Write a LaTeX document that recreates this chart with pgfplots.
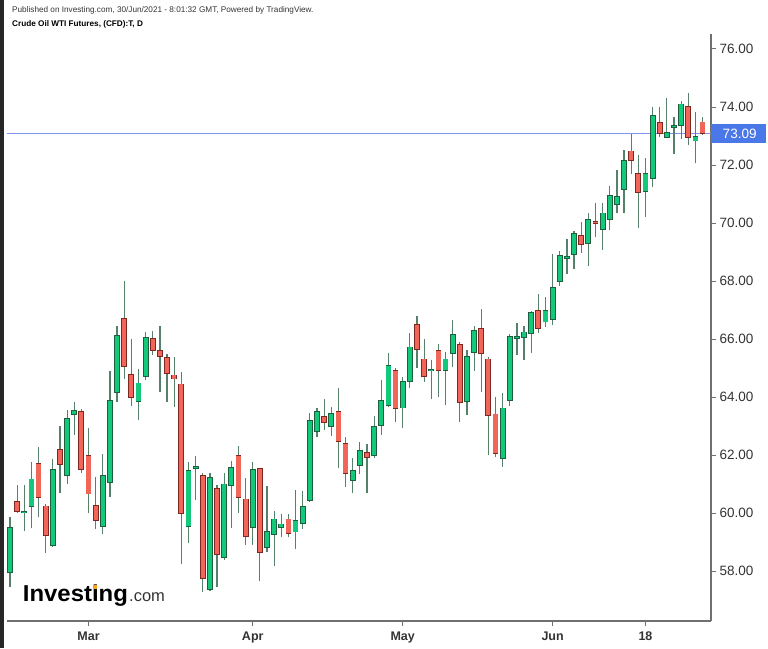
\documentclass[border=0pt]{standalone}
\usepackage{pgfplots}
\pgfplotsset{compat=1.18}
\usepackage{pgfplotstable}
\usepackage{graphicx}
\usepackage{fontspec}
\setmainfont{Liberation Sans}
\definecolor{upfill}{HTML}{12C97B}
\definecolor{upedge}{HTML}{1F5E3D}
\definecolor{dnfill}{HTML}{F2665A}
\definecolor{dnedge}{HTML}{7E2620}
\definecolor{wick}{HTML}{55806A}
\definecolor{pline}{HTML}{7E98F2}
\definecolor{pbox}{HTML}{4A78E8}
\definecolor{axcol}{HTML}{707070}
\definecolor{txt}{HTML}{333333}
\definecolor{logoorange}{HTML}{F7A21B}

% up candles: index open high low close
\pgfplotstableread{
i o h l c
1 57.96 59.87 57.46 59.49
3 60.02 60.97 59.39 60.05
4 60.25 61.75 59.47 61.16
7 58.90 61.86 58.84 61.49
9 61.32 63.55 61.02 63.24
10 63.40 63.83 62.71 63.53
14 59.56 62.03 59.28 61.28
15 61.08 64.90 60.56 63.86
16 64.18 66.45 63.84 66.11
19 63.86 64.98 63.21 64.47
20 64.72 66.24 64.59 66.03
26 59.55 61.75 58.98 61.45
27 61.55 61.97 60.45 61.58
29 57.39 61.37 57.32 61.20
31 58.49 61.37 58.38 60.99
32 60.96 61.78 59.47 61.56
35 59.53 61.77 58.90 61.48
37 58.83 60.93 58.67 59.36
38 59.28 60.08 58.17 59.78
39 59.53 59.96 59.16 59.61
41 59.36 60.79 58.78 59.73
42 59.65 60.75 59.45 60.20
43 60.45 63.46 60.40 63.17
44 62.84 63.61 62.61 63.49
46 63.00 63.67 62.66 63.41
49 61.13 61.91 60.68 61.45
50 61.66 62.44 61.34 62.14
52 61.99 63.34 61.89 62.98
53 63.03 64.59 62.69 63.87
54 63.71 65.53 63.67 65.07
56 63.64 64.70 62.95 64.53
57 64.56 66.22 64.33 65.71
60 64.92 65.28 63.92 64.95
62 64.92 65.56 63.72 65.30
63 65.51 66.66 65.04 66.13
65 63.86 65.62 63.38 65.38
66 65.54 66.46 64.90 66.28
70 61.90 64.13 61.60 63.61
71 63.90 66.17 63.69 66.08
72 66.04 66.54 65.45 66.08
73 66.07 66.45 65.28 66.23
74 66.20 66.96 65.53 66.91
76 66.60 67.44 66.42 66.98
77 66.68 68.92 66.48 67.75
78 68.00 69.03 67.83 68.86
79 68.78 69.45 68.23 68.82
80 68.93 69.73 68.40 69.62
82 69.30 70.35 68.52 70.10
84 69.79 70.68 69.07 70.33
85 70.13 71.28 69.76 70.94
86 70.66 71.83 70.33 70.91
87 71.18 72.52 70.33 72.14
90 71.11 72.23 70.20 71.68
91 71.56 73.99 71.23 73.69
93 72.96 74.30 72.92 73.11
94 73.30 73.64 72.38 73.34
95 73.37 74.21 72.89 74.09
97 72.84 73.84 72.06 72.98
}\up

% down candles: index open high low close
\pgfplotstableread{
i o h l c
2 60.38 60.97 60.01 60.08
5 61.70 62.29 59.85 60.54
6 60.23 60.31 58.64 59.23
8 62.18 63.01 60.70 61.69
11 63.49 63.58 61.40 61.52
12 61.98 62.92 59.99 60.67
13 60.25 61.24 59.46 59.77
17 66.69 68.01 64.64 65.08
18 64.76 66.00 63.69 64.01
21 66.00 66.29 65.45 65.62
22 65.60 66.45 64.18 65.41
23 65.34 65.48 63.84 64.82
24 64.75 65.39 63.67 64.64
25 64.44 64.85 58.24 60.01
28 61.29 61.37 57.29 57.77
30 60.83 60.97 57.46 58.58
33 61.98 62.32 60.01 60.55
34 60.47 61.22 58.90 59.20
36 61.52 61.54 57.67 58.67
40 59.78 59.97 59.16 59.31
45 63.32 63.92 62.86 63.15
47 63.49 64.30 61.54 62.47
48 62.39 62.61 60.91 61.37
51 62.07 62.37 60.70 61.94
55 64.90 64.99 63.13 63.62
58 66.48 66.79 64.99 65.66
59 65.30 66.00 64.53 64.71
61 65.59 65.82 64.01 64.92
64 65.80 65.89 63.15 63.82
67 66.36 67.02 64.18 65.51
68 65.30 65.39 62.00 63.37
69 63.40 63.99 61.94 62.06
75 66.98 67.55 66.22 66.37
81 69.55 70.05 68.96 69.28
83 70.05 70.68 69.51 69.99
88 72.47 73.06 71.68 72.17
89 71.68 72.34 69.84 71.07
92 73.44 73.99 72.98 73.09
96 74.01 74.47 72.69 72.96
98 73.47 73.67 73.05 73.09
}\dn

\begin{document}
\begin{tikzpicture}
\begin{axis}[
  scale only axis,
  width=704pt, height=586.5pt,
  xmin=0.58, xmax=99.18, ymin=56.28, ymax=76.5,
  axis x line*=bottom, axis y line*=right,
  axis line style={-, draw=axcol, line width=1.2pt},
  every outer x axis line/.append style={-},
  every outer y axis line/.append style={-},
  tick align=outside, major tick length=5pt,
  tick style={draw=axcol, line width=1pt},
  xtick={12,35,56,77,90}, xticklabels={Mar,Apr,May,Jun,18},
  ytick={58,60,62,64,66,68,70,72,74,76},
  yticklabels={58.00,60.00,62.00,64.00,66.00,68.00,70.00,72.00,74.00,76.00},
  xticklabel style={text=txt, font=\fontsize{12.5}{14}\selectfont\bfseries, yshift=-2pt},
  yticklabel style={text=txt, font=\fontsize{13.5}{15}\selectfont, anchor=west},
  clip=false,
]
% canvas: outer pixel (X,Y from bottom) -> rel (X-7)/704, (Y-27)/586.5
\path (axis description cs:-0.00994,-0.04604) rectangle (axis description cs:1.08097,1.05882);
\fill[black!85] (axis description cs:-0.00994,-0.04604) rectangle (axis description cs:-0.00426,1.05882);
\node[anchor=base west, inner sep=0pt, text=txt, font=\fontsize{8.2}{10}\selectfont] at (axis description cs:0.00710,1.03717) {Published on Investing.com, 30/Jun/2021 - 8:01:32 GMT, Powered by TradingView.};
\node[anchor=base west, inner sep=0pt, text=black, font=\fontsize{8.2}{10}\selectfont\bfseries] at (axis description cs:0.00710,1.01279) {Crude Oil WTI Futures, (CFD):T, D};
\node[anchor=base west, inner sep=0pt, text=black, font=\fontsize{23}{25}\selectfont\bfseries] at (axis description cs:0.02230,0.03291) {\scalebox{1.04}[1]{Investing}};
\fill[logoorange] (axis description cs:0.12202,0.05422) rectangle (axis description cs:0.12827,0.06172);
\node[anchor=base west, inner sep=0pt, text=txt, font=\fontsize{16.5}{18}\selectfont] at (axis description cs:0.17330,0.03291) {.com};
\addplot[pline, line width=1pt, forget plot] coordinates {(0.58,73.09) (99.18,73.09)};
% wicks
\addplot[draw=none, mark=none, forget plot, error bars/.cd, y dir=plus, y explicit, error mark=none,
  error bar style={draw=wick, line width=1.2pt}] table[x=i, y=l, y error plus expr=\thisrow{h}-\thisrow{l}] {\up};
\addplot[draw=none, mark=none, forget plot, error bars/.cd, y dir=plus, y explicit, error mark=none,
  error bar style={draw=wick, line width=1.2pt}] table[x=i, y=l, y error plus expr=\thisrow{h}-\thisrow{l}] {\dn};
% up bodies
\addplot[draw=none, mark=none, forget plot, error bars/.cd, y dir=plus, y explicit, error mark=none,
  error bar style={draw=upedge, line width=5.8pt, line cap=butt}] table[x=i, y expr=\thisrow{o}-0.028, y error plus expr=\thisrow{c}-\thisrow{o}+0.056] {\up};
\addplot[draw=none, mark=none, forget plot, error bars/.cd, y dir=plus, y explicit, error mark=none,
  error bar style={draw=upfill, line width=4.2pt, line cap=butt}] table[x=i, y=o, y error plus expr=\thisrow{c}-\thisrow{o}] {\up};
% down bodies
\addplot[draw=none, mark=none, forget plot, error bars/.cd, y dir=plus, y explicit, error mark=none,
  error bar style={draw=dnedge, line width=5.8pt, line cap=butt}] table[x=i, y expr=\thisrow{c}-0.028, y error plus expr=\thisrow{o}-\thisrow{c}+0.056] {\dn};
\addplot[draw=none, mark=none, forget plot, error bars/.cd, y dir=plus, y explicit, error mark=none,
  error bar style={draw=dnfill, line width=4.2pt, line cap=butt}] table[x=i, y=c, y error plus expr=\thisrow{o}-\thisrow{c}] {\dn};
% last price box
\fill[pbox] ([yshift=-9.25pt]axis cs:99.18,73.09) rectangle ([xshift=55pt,yshift=9.25pt]axis cs:99.18,73.09);
\node[anchor=west, text=white, font=\fontsize{13.5}{15}\selectfont] at ([xshift=8.2pt]axis cs:99.18,73.09) {73.09};
\end{axis}
\end{tikzpicture}
\end{document}
